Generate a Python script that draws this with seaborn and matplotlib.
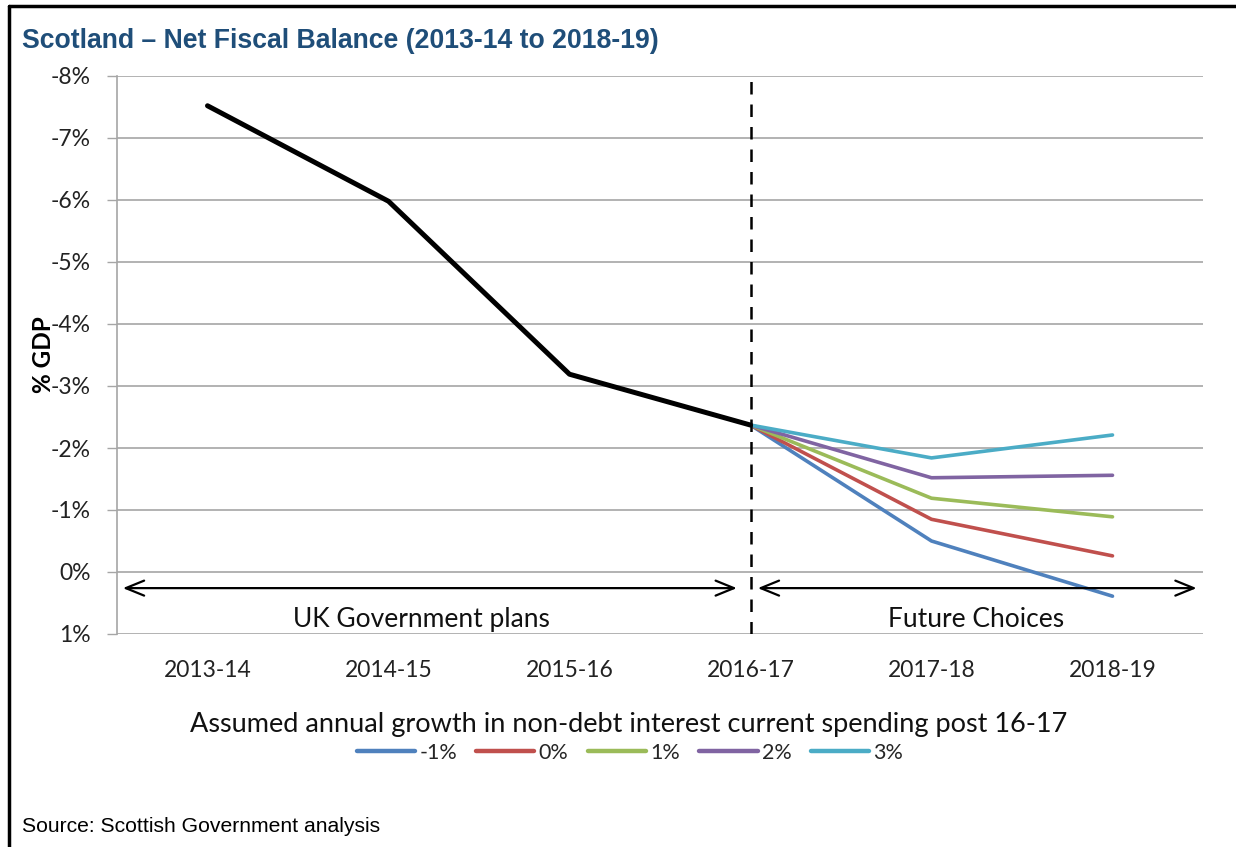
import matplotlib
matplotlib.use("Agg")
import matplotlib.pyplot as plt
import seaborn as sns
import pandas as pd
from matplotlib.lines import Line2D

years = ["2013-14", "2014-15", "2015-16", "2016-17", "2017-18", "2018-19"]
actual = [-7.52, -5.98, -3.19, -2.37]
scenario_names = ["-1%", "0%", "1%", "2%", "3%"]
scen_2017 = [-0.50, -0.85, -1.19, -1.52, -1.84]
scen_2018 = [0.39, -0.26, -0.89, -1.56, -2.21]
colors = ["#4F81BD", "#C0504D", "#9BBB59", "#8064A2", "#4BACC6"]
yticks = [-8, -7, -6, -5, -4, -3, -2, -1, 0, 1]

sns.set_theme(style="white")
plt.rcParams["font.family"] = ["Lato", "DejaVu Sans"]

hist = pd.DataFrame({"x": range(len(actual)), "value": actual})
rows = []
for name, v1, v2 in zip(scenario_names, scen_2017, scen_2018):
    for xi, v in zip([3, 4, 5], [actual[-1], v1, v2]):
        rows.append({"x": xi, "value": v, "scenario": name})
scen = pd.DataFrame(rows)

fig = plt.figure(figsize=(12.36, 8.47), dpi=100)
ax = fig.add_axes([117/1236, 1-634/847, (1203-117)/1236, (634-76)/847])

for yv in yticks:
    ax.axhline(yv, color="#A6A6A6", lw=1.2, zorder=0)

sns.lineplot(data=scen, x="x", y="value", hue="scenario", hue_order=scenario_names,
             palette=colors, lw=2.6, ax=ax, legend=False, zorder=3)
sns.lineplot(data=hist, x="x", y="value", color="black", lw=3.6, ax=ax, zorder=4)

ax.set_xlim(-0.5, 5.5)
ax.set_ylim(1, -8)
ax.set_yticks(yticks)
ax.set_yticklabels([f"{v}%" for v in yticks], fontsize=16.5, color="#222222")
ax.set_xticks(range(len(years)))
ax.set_xticklabels(years, fontsize=16.5, color="#222222")
ax.tick_params(axis="x", length=0, pad=19)
ax.tick_params(axis="y", length=7, width=1, color="#A6A6A6", direction="out", pad=12, left=True)
for s in ["top", "right", "bottom"]:
    ax.spines[s].set_visible(False)
ax.spines["left"].set_color("#A6A6A6")
ax.spines["left"].set_linewidth(1.2)

ax.axvline(3, color="black", lw=1.8, ls=(0, (5, 4)), zorder=5)

arrow_y = 0.26
ax.annotate("", xy=(-0.483, arrow_y), xytext=(2.94, arrow_y),
            arrowprops=dict(arrowstyle="<->,head_length=1.1,head_width=0.45", color="black", lw=1.6))
ax.annotate("", xy=(3.025, arrow_y), xytext=(5.48, arrow_y),
            arrowprops=dict(arrowstyle="<->,head_length=1.1,head_width=0.45", color="black", lw=1.6))
ax.text(1.18, 0.77, "UK Government plans", ha="center", va="center", fontsize=19, color="#111111")
ax.text(4.246, 0.77, "Future Choices", ha="center", va="center", fontsize=19, color="#111111")

ax.set_xlabel("Assumed annual growth in non-debt interest current spending post 16-17",
              fontsize=19.5, color="#111111")
ax.xaxis.set_label_coords((629-117)/1086, -0.14)
ax.set_ylabel("% GDP", fontsize=17.5, fontweight="bold", color="black")
ax.yaxis.set_label_coords(-0.057, 0.5)

handles = [Line2D([], [], color=c, lw=3.2) for c in colors]
fig.legend(handles, scenario_names, loc="center", bbox_to_anchor=(630/1236, 1-753/847),
           ncol=5, frameon=False, fontsize=15.5, handlelength=2.7, handletextpad=0.2,
           columnspacing=0.9)

fig.text(22/1236, 1-41/847, "Scotland \u2013 Net Fiscal Balance (2013-14 to 2018-19)",
         fontsize=19.2, fontweight="bold", color="#1F4E79", family="Liberation Sans",
         ha="left", va="center")
fig.text(22/1236, 1-826/847, "Source: Scottish Government analysis", fontsize=15.2,
         family="Liberation Sans", color="black", ha="left", va="center")

fig.add_artist(Line2D([9/1236, 9/1236], [0, 1-6/847], transform=fig.transFigure, color="black", lw=2.5))
fig.add_artist(Line2D([9/1236, 1], [1-6/847, 1-6/847], transform=fig.transFigure, color="black", lw=2.5))

fig.savefig("out.png", dpi=100, facecolor="white")
